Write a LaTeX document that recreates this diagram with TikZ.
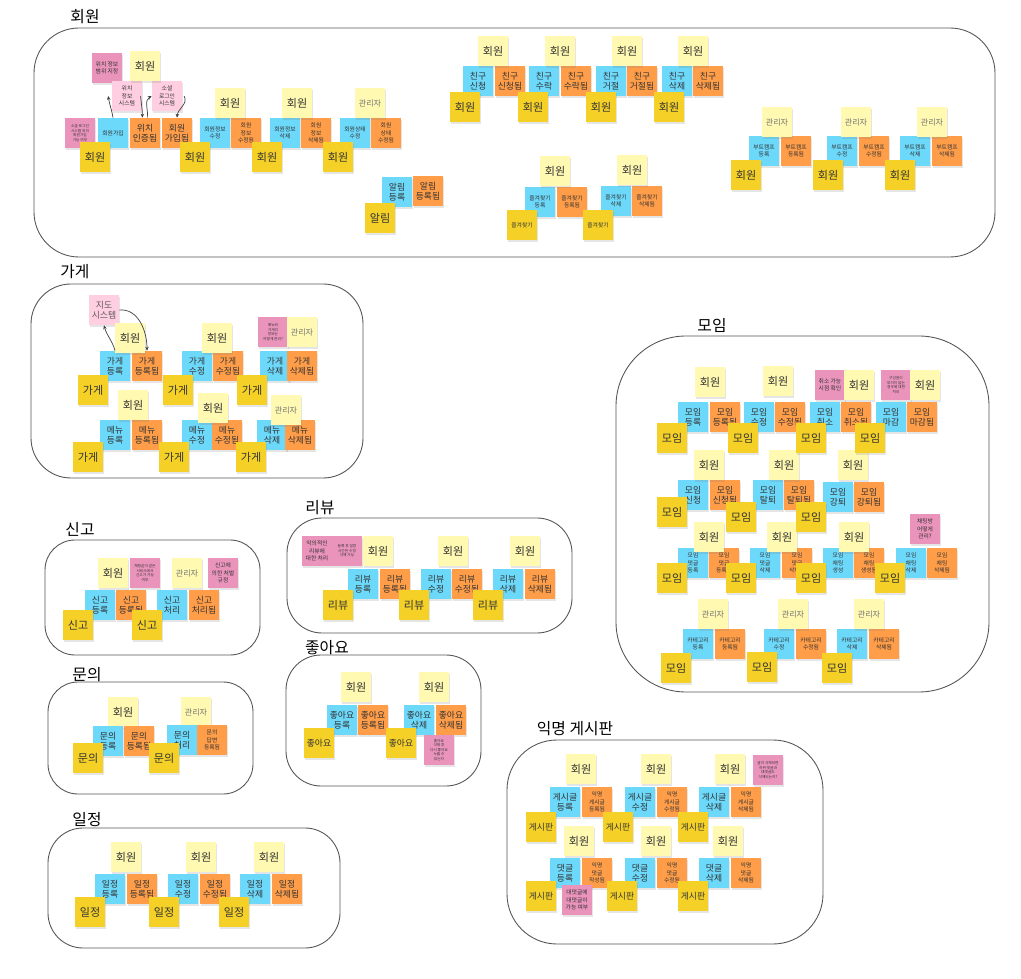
\documentclass[tikz,border=0pt]{standalone}
\usepackage{fontspec}
\setmainfont{Noto Sans CJK KR}
\usetikzlibrary{arrows.meta,shadows}
\definecolor{actorYellow}{RGB}{255,249,177}
\definecolor{cmdBlue}{RGB}{108,216,250}
\definecolor{evtOrange}{RGB}{255,157,72}
\definecolor{aggGold}{RGB}{245,209,40}
\definecolor{hotPink}{RGB}{234,148,187}
\definecolor{sysPink}{RGB}{255,206,224}
\definecolor{frameGray}{RGB}{85,85,85}

\begin{document}
\begin{tikzpicture}[x=0.02cm, y=-0.02cm,
    note/.style={rectangle, minimum width=0.6cm, minimum height=0.6cm, inner sep=0.5pt, align=center, text=black!80,
      drop shadow={shadow xshift=0.3pt, shadow yshift=-0.9pt, opacity=0.2}},
    actor/.style={note, fill=actorYellow},
    admin/.style={note, fill=actorYellow, text=black!55, font=\fontsize{4.6}{5.5}\selectfont},
    cmd/.style={note, fill=cmdBlue},
    evt/.style={note, fill=evtOrange},
    agg/.style={note, fill=aggGold},
    hot/.style={note, fill=hotPink},
    ext/.style={note, fill=sysPink},
    big/.style={font=\fontsize{6.3}{7}\selectfont},
    mid/.style={font=\fontsize{5}{6}\selectfont},
    small/.style={font=\fontsize{3.3}{4.2}\selectfont},
    tiny/.style={font=\fontsize{2.1}{2.6}\selectfont},
    frame/.style={draw=frameGray, line width=0.5pt},
    title/.style={font=\fontsize{9}{11}\selectfont},
    flow/.style={-{Stealth[length=2.2pt,width=2pt]}, draw=black!75, line width=0.4pt}]

  \fill[white] (0,0) rectangle (1021,979);
  \useasboundingbox (0,0) rectangle (1021,979);

  % ---------------- 회원 ----------------
  \draw[frame, rounded corners=0.9cm] (34,28) rectangle (995,257);
  \node[title] (memTitle) at (85,17) {회원};

  \node[hot, small] (memHot1) at (107,68) {위치 정보\\범위 지정};
  \node[hot, tiny] (memHot2) at (80,133) {소셜 로그인\\시스템 외의\\회원가입\\가능 여부};
  \node[ext, small] (locSys) at (127,96) {위치\\정보\\시스템};
  \node[ext, small] (socialSys) at (167,96) {소셜\\로그인\\시스템};
  \node[cmd, small] (memJoin) at (113,133) {회원가입};
  \node[evt, mid] (locOk) at (145,133) {위치\\인증됨};
  \node[evt, mid] (memJoined) at (177,133) {회원\\가입됨};
  \foreach \px/\txt [count=\i] in {215/{회원정보\\수정}, 285/{회원정보\\삭제}, 355/{회원상태\\수정}}
    \node[cmd, small] (memCmd\i) at (\px,133) {\txt};
  \foreach \px/\txt [count=\i] in {246/{회원\\정보\\수정됨}, 316/{회원\\정보\\삭제됨}, 386/{회원\\상태\\수정됨}}
    \node[evt, small] (memEvt\i) at (\px,133) {\txt};
  \foreach \px/\py [count=\i] in {145/66, 230/103, 297/103}
    \node[actor, big] (memAct\i) at (\px,\py) {회원};
  \node[admin] (memAdmin) at (370,103) {관리자};
  \foreach \px [count=\i] in {95,195,267,338}
    \node[agg, big] (memAgg\i) at (\px,157) {회원};

  % sign-up flow
  \draw[flow] (memJoin.north) to[out=100, in=-80] ([xshift=-2pt]locSys.west);
  \draw[flow] ([xshift=-1pt]locSys.east) to[out=-85, in=90] ([xshift=-1.5pt]locOk.north);
  \draw[flow] ([xshift=1.5pt]locOk.north) to[out=88, in=-150] (socialSys.west);
  \draw[flow] ([xshift=1pt]socialSys.east) to[out=-60, in=85] (memJoined.north);

  % 알림
  \node[cmd, mid] (alarmCmd) at (397,192) {알림\\등록};
  \node[evt, mid] (alarmEvt) at (428,191) {알림\\등록됨};
  \node[agg, big] (alarmAgg) at (380,218) {알림};

  % 친구
  \foreach \px/\txt [count=\i] in {478/신청, 544/수락, 611/거절, 677/삭제}
    \node[cmd, mid] (frCmd\i) at (\px,81) {친구\\\txt};
  \foreach \px/\txt [count=\i] in {510/신청됨, 576/수락됨, 642/거절됨, 708/삭제됨}
    \node[evt, mid] (frEvt\i) at (\px,81) {친구\\\txt};
  \foreach \px [count=\i] in {493,560,627,693}
    \node[actor, big] (frAct\i) at (\px,51) {회원};
  \foreach \px [count=\i] in {465,533,601,669}
    \node[agg, big] (frAgg\i) at (\px,107) {회원};

  % 즐겨찾기
  \node[cmd, small] (favCmd1) at (540,202) {즐겨찾기\\등록};
  \node[evt, small] (favEvt1) at (572,202) {즐겨찾기\\등록됨};
  \node[cmd, small] (favCmd2) at (616,201) {즐겨찾기\\삭제};
  \node[evt, small] (favEvt2) at (647,201) {즐겨찾기\\삭제됨};
  \node[actor, big] (favAct1) at (555,171) {회원};
  \node[actor, big] (favAct2) at (632,170) {회원};
  \node[agg, small] (favAgg1) at (522,225) {즐겨찾기};
  \node[agg, small] (favAgg2) at (598,225) {즐겨찾기};

  % 부트캠프
  \foreach \px/\txt [count=\i] in {764/등록, 842/수정, 915/삭제}
    \node[cmd, small] (campCmd\i) at (\px,151) {부트캠프\\\txt};
  \foreach \px/\txt [count=\i] in {796/등록됨, 874/수정됨, 947/삭제됨}
    \node[evt, small] (campEvt\i) at (\px,151) {부트캠프\\\txt};
  \foreach \px [count=\i] in {777,856,932}
    \node[admin] (campAdmin\i) at (\px,122) {관리자};
  \foreach \px [count=\i] in {746,828,900}
    \node[agg, big] (campAgg\i) at (\px,175) {회원};

  % ---------------- 가게 ----------------
  \draw[frame, rounded corners=0.8cm] (31,284) rectangle (363,478);
  \node[title] (storeTitle) at (75,272) {가게};

  \node[ext, mid, text=black!65] (mapSys) at (104,310) {지도\\시스템};
  \node[hot, tiny] (storeHot) at (273,332) {메뉴와\\가게의\\정보는\\어떻게 관리?};
  \foreach \px/\py/\txt [count=\i] in {115/366/{가게\\등록}, 197/366/{가게\\수정}, 275/366/{가게\\삭제},
      115/435/{메뉴\\등록}, 197/435/{메뉴\\수정}, 272/435/{메뉴\\삭제}}
    \node[cmd, mid] (storeCmd\i) at (\px,\py) {\txt};
  \foreach \px/\py/\txt [count=\i] in {147/366/{가게\\등록됨}, 228/366/{가게\\수정됨}, 302/366/{가게\\삭제됨},
      147/435/{메뉴\\등록됨}, 227/435/{메뉴\\수정됨}, 300/435/{메뉴\\삭제됨}}
    \node[evt, mid] (storeEvt\i) at (\px,\py) {\txt};
  \foreach \px/\py [count=\i] in {130/338, 217/338, 133/405, 213/408}
    \node[actor, big] (storeAct\i) at (\px,\py) {회원};
  \node[admin] (storeAdmin1) at (302,332) {관리자};
  \node[admin] (storeAdmin2) at (286,410) {관리자};
  \foreach \px/\py [count=\i] in {93/390, 178/390, 252/390, 88/457, 174/457, 251/457}
    \node[agg, big] (storeAgg\i) at (\px,\py) {가게};

  \draw[flow] (storeCmd1.north) to[out=105, in=-75] (mapSys.south);
  \draw[flow] (mapSys.east) to[out=5, in=90] (storeEvt1.north);

  % ---------------- 모임 ----------------
  \draw[frame, rounded corners=1.4cm] (616,336) rectangle (989,692);
  \node[title] (meetTitle) at (712,325) {모임};

  \node[hot, small] (meetHot1) at (830,385) {취소 가능\\시점 확인};
  \node[hot, tiny] (meetHot2) at (896,385) {구성원이\\모이지 않는\\경우에 대한\\처리};
  \node[hot, small] (meetHot3) at (925,529) {채팅방\\어떻게\\관리?};

  \foreach \px/\py/\txt [count=\i] in {693/417/등록, 759/417/수정, 825/417/취소, 891/417/마감,
      693/495/신청, 768/495/탈퇴, 838/497/강퇴}
    \node[cmd, mid] (meetCmd\i) at (\px,\py) {모임\\\txt};
  \foreach \px/\py/\txt [count=\i] in {725/417/등록됨, 790/417/수정됨, 856/417/취소됨, 922/417/마감됨,
      725/495/신청됨, 799/495/탈퇴됨, 869/497/강퇴됨}
    \node[evt, mid] (meetEvt\i) at (\px,\py) {모임\\\txt};
  \foreach \px/\txt [count=\i] in {693/{댓글\\등록}, 765/{댓글\\삭제}, 838/{채팅\\생성}, 911/{채팅\\삭제}}
    \node[cmd, small] (chatCmd\i) at (\px,563) {모임\\\txt};
  \foreach \px/\txt [count=\i] in {724/{댓글\\등록됨}, 797/{댓글\\삭제됨}, 869/{채팅\\생성됨}, 942/{채팅\\삭제됨}}
    \node[evt, small] (chatEvt\i) at (\px,563) {모임\\\txt};
  \foreach \px/\txt [count=\i] in {698/등록, 779/수정, 852/삭제}
    \node[cmd, small] (catCmd\i) at (\px,644) {카테고리\\\txt};
  \foreach \px/\txt [count=\i] in {730/등록됨, 811/수정됨, 884/삭제됨}
    \node[evt, small] (catEvt\i) at (\px,644) {카테고리\\\txt};

  \foreach \px/\py [count=\i] in {710/382, 778/381, 859/385, 925/385, 709/465, 784/465, 853/465,
      709/537, 782/537, 854/537}
    \node[actor, big] (meetAct\i) at (\px,\py) {회원};
  \foreach \px [count=\i] in {713,793,869}
    \node[admin] (meetAdmin\i) at (\px,614) {관리자};
  \foreach \px/\py [count=\i] in {672/438, 743/438, 811/438, 870/438, 672/512, 741/517, 811/517,
      672/578, 741/578, 811/578, 890/578, 676/668, 762/667, 837/668}
    \node[agg, big] (meetAgg\i) at (\px,\py) {모임};

  % ---------------- 신고 ----------------
  \draw[frame, rounded corners=0.6cm] (45,540) rectangle (260,655);
  \node[title] (reportTitle) at (80,529) {신고};

  \node[actor, big] (reportAct) at (113,573) {회원};
  \node[hot, tiny] (reportHot1) at (145,573) {채팅같이 같은\\서비스에서\\신고가 가능\\여부};
  \node[admin] (reportAdmin) at (187,573) {관리자};
  \node[hot, small] (reportHot2) at (223,573) {신고에\\의한 처벌\\규정};
  \node[cmd, mid] (reportCmd1) at (100,605) {신고\\등록};
  \node[evt, mid] (reportEvt1) at (131,605) {신고\\등록됨};
  \node[cmd, mid] (reportCmd2) at (172,605) {신고\\처리};
  \node[evt, mid] (reportEvt2) at (204,605) {신고\\처리됨};
  \node[agg, big] (reportAgg1) at (78,625) {신고};
  \node[agg, big] (reportAgg2) at (147,625) {신고};

  % ---------------- 문의 ----------------
  \draw[frame, rounded corners=0.6cm] (48,682) rectangle (253,794);
  \node[title] (askTitle) at (87,675) {문의};

  \node[actor, big] (askAct) at (123,712) {회원};
  \node[admin] (askAdmin) at (196,712) {관리자};
  \node[cmd, mid] (askCmd1) at (108,741) {문의\\등록};
  \node[evt, mid] (askEvt1) at (139,741) {문의\\등록됨};
  \node[cmd, mid] (askCmd2) at (182,740) {문의\\처리};
  \node[evt, small] (askEvt2) at (212,740) {문의\\답변\\등록됨};
  \node[agg, big] (askAgg1) at (88,758) {문의};
  \node[agg, big] (askAgg2) at (164,758) {문의};

  % ---------------- 일정 ----------------
  \draw[frame, rounded corners=0.7cm] (48,828) rectangle (340,948);
  \node[title] (planTitle) at (87,820) {일정};

  \foreach \px/\txt [count=\i] in {110/등록, 183/수정, 255/삭제}
    \node[cmd, mid] (planCmd\i) at (\px,889) {일정\\\txt};
  \foreach \px/\txt [count=\i] in {142/등록됨, 215/수정됨, 287/삭제됨}
    \node[evt, mid] (planEvt\i) at (\px,889) {일정\\\txt};
  \foreach \px [count=\i] in {126,201,269}
    \node[actor, big] (planAct\i) at (\px,857) {회원};
  \foreach \px [count=\i] in {90,164,234}
    \node[agg, big] (planAgg\i) at (\px,912) {일정};

  % ---------------- 리뷰 ----------------
  \draw[frame, rounded corners=0.7cm] (287,518) rectangle (572,633);
  \node[title] (reviewTitle) at (320,508) {리뷰};

  \node[hot, small] (reviewHot1) at (317,551) {악의적인\\리뷰에\\대한 처리};
  \node[hot, tiny] (reviewHot2) at (347,551) {등록 후 일정\\시간만 수정\\삭제 가능};
  \foreach \px/\txt [count=\i] in {363/등록, 436/수정, 508/삭제}
    \node[cmd, mid] (reviewCmd\i) at (\px,584) {리뷰\\\txt};
  \foreach \px/\txt [count=\i] in {395/등록됨, 467/수정됨, 540/삭제됨}
    \node[evt, mid] (reviewEvt\i) at (\px,584) {리뷰\\\txt};
  \foreach \px [count=\i] in {378,453,525}
    \node[actor, big] (reviewAct\i) at (\px,551) {회원};
  \foreach \px [count=\i] in {338,414,488}
    \node[agg, big] (reviewAgg\i) at (\px,605) {리뷰};

  % ---------------- 좋아요 ----------------
  \draw[frame, rounded corners=0.7cm] (286,655) rectangle (481,786);
  \node[title] (likeTitle) at (327,648) {좋아요};

  \node[cmd, mid] (likeCmd1) at (342,720) {좋아요\\등록};
  \node[evt, mid] (likeEvt1) at (373,720) {좋아요\\등록됨};
  \node[cmd, mid] (likeCmd2) at (419,720) {좋아요\\삭제};
  \node[evt, mid] (likeEvt2) at (451,720) {좋아요\\삭제됨};
  \node[actor, big] (likeAct1) at (356,687) {회원};
  \node[actor, big] (likeAct2) at (434,687) {회원};
  \node[agg, mid] (likeAgg1) at (319,743) {좋아요};
  \node[agg, mid] (likeAgg2) at (401,743) {좋아요};
  \node[hot, tiny] (likeHot) at (439,750) {좋아요\\삭제 후\\다시 좋아요\\누를 수\\있는지};

  % ---------------- 익명 게시판 ----------------
  \draw[frame, rounded corners=1cm] (507,740) rectangle (823,944);
  \node[title] (boardTitle) at (575,729) {익명 게시판};

  \foreach \px/\py/\txt [count=\i] in {565/802/{게시글\\등록}, 640/802/{게시글\\수정}, 714/802/{게시글\\삭제},
      565/873/{댓글\\등록}, 640/873/{댓글\\수정}, 714/873/{댓글\\삭제}}
    \node[cmd, mid] (boardCmd\i) at (\px,\py) {\txt};
  \foreach \px/\py/\txt [count=\i] in {597/802/{게시글\\등록됨}, 672/802/{게시글\\수정됨}, 746/802/{게시글\\삭제됨},
      597/873/{댓글\\작성됨}, 672/873/{댓글\\수정됨}, 746/873/{댓글\\삭제됨}}
    \node[evt, small] (boardEvt\i) at (\px,\py) {익명\\\txt};
  \foreach \px/\py [count=\i] in {581/769, 656/769, 730/769, 579/841, 656/841, 728/841}
    \node[actor, big] (boardAct\i) at (\px,\py) {회원};
  \node[hot, tiny] (boardHot1) at (768,770) {글이 삭제되면\\하위 댓글과\\대댓글도\\삭제되는지?};
  \foreach \px/\py [count=\i] in {541/827, 618/827, 693/827, 541/896, 622/896, 693/896}
    \node[agg, mid] (boardAgg\i) at (\px,\py) {게시판};
  \node[hot, small] (boardHot2) at (577,900) {대댓글에\\대댓글이\\가능 여부};
\end{tikzpicture}
\end{document}
